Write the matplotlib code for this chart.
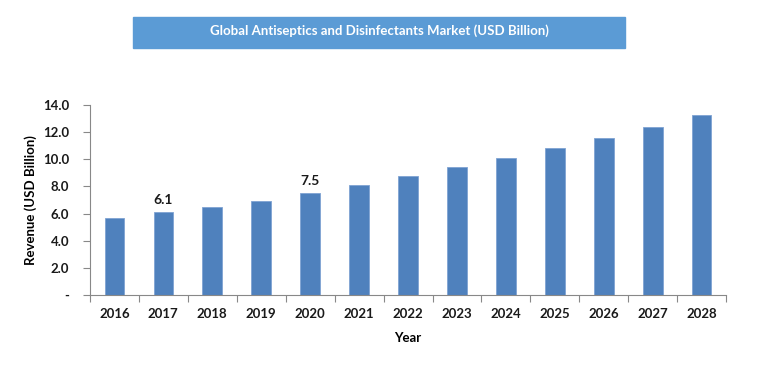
import numpy as np
import matplotlib
matplotlib.use("Agg")
import matplotlib.pyplot as plt
from matplotlib.patches import Rectangle

years = ["2016", "2017", "2018", "2019", "2020", "2021", "2022",
         "2023", "2024", "2025", "2026", "2027", "2028"]
revenue = [5.7, 6.1, 6.5, 6.9, 7.5, 8.1, 8.8, 9.4, 10.1, 10.8, 11.6, 12.4, 13.3]
labelled = {"2017": "6.1", "2020": "7.5"}
y_ticks = [0, 2, 4, 6, 8, 10, 12, 14]
y_tick_labels = ["-", "2.0", "4.0", "6.0", "8.0", "10.0", "12.0", "14.0"]

plt.rcParams["font.family"] = ["Lato", "DejaVu Sans"]


def main() -> None:
    fig = plt.figure(figsize=(7.75, 3.76), dpi=100)
    ax = fig.add_axes([0.116, 0.2154, 0.821, 0.5053])

    x = np.arange(len(years))
    ax.bar(x, revenue, width=0.4, color="#4F81BD", edgecolor="#7FA3D3", linewidth=0.6)

    for i, yr in enumerate(years):
        if yr in labelled:
            ax.text(i, revenue[i] + 0.45, labelled[yr], ha="center", va="bottom",
                    fontsize=10, fontweight="bold", color="#1a1a1a")

    ax.set_xlim(-0.5, len(years) - 0.5)
    ax.set_ylim(0, 14)
    ax.set_yticks(y_ticks)
    ax.set_yticklabels(y_tick_labels)
    ax.set_xticks(x)
    ax.set_xticklabels(years)
    ax.set_xticks(np.arange(-0.5, len(years)), minor=True)
    ax.tick_params(axis="x", which="major", length=0, pad=9)
    ax.tick_params(axis="x", which="minor", length=5, color="#888888", width=0.8)
    ax.tick_params(axis="y", length=5, color="#888888", width=0.8, pad=10)
    for lab in ax.get_xticklabels() + ax.get_yticklabels():
        lab.set_fontsize(9.5)
        lab.set_fontweight("bold")
        lab.set_color("#1a1a1a")

    for side in ["top", "right"]:
        ax.spines[side].set_visible(False)
    for side in ["left", "bottom"]:
        ax.spines[side].set_color("#888888")
        ax.spines[side].set_linewidth(0.8)

    ax.set_xlabel("Year", fontsize=9.5, fontweight="bold", labelpad=9)
    ax.set_ylabel("Revenue (USD Billion)", fontsize=9.5, fontweight="bold", labelpad=4)

    # title banner
    fig.patches.append(Rectangle((133 / 775, 1 - 48 / 376), 492 / 775, 31 / 376,
                                 transform=fig.transFigure, color="#5B9BD5", zorder=0))
    fig.text(379 / 775, 1 - 31 / 376, "Global Antiseptics and Disinfectants Market (USD Billion)",
             ha="center", va="center", color="white", fontsize=9.5, fontweight="bold")

    fig.savefig("out.png", dpi=100)


if __name__ == "__main__":
    main()
